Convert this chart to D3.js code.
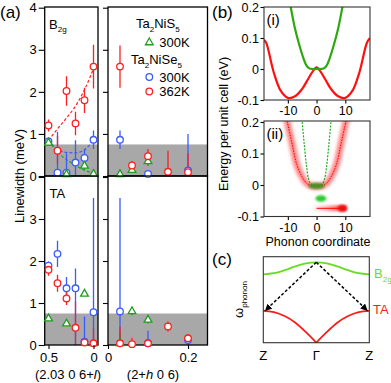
<!DOCTYPE html>
<html>
<head>
<meta charset="utf-8">
<script src="https://cdn.jsdelivr.net/npm/d3@7"></script>
<style>
  body { margin: 0; background: #fff; }
</style>
</head>
<body>
<div id="chart"></div>
<script>
// ---------- panel (a): linewidths, rows are [position, width, err down, err up]
var greyLevel = 0.75;
var lTicks = [0.5, 0];
var hTicks = [0, 0.2];
var widthTicks = [0, 1, 2, 3, 4];

// B2g, (2.03 0 6+l)
var b2gSe300 = [[0.5, 0.82, 0.1, 0.1], [0.4, 0.08, 0.08, 0.97], [0.3, 0.08, 0.08, 0.46],
                [0.2, 0.32, 0.32, 0.53], [0.1, 0.43, 0.22, 0.22], [0, 0.86, 0.22, 0.22]];
var b2gS300 = [[0.5, 0.8, 0.05, 0.05], [0.3, 0.05, 0.05, 0.05], [0.1, 0.25, 0.1, 0.1], [0, 0.06, 0.05, 0.05]];
var b2gSe362 = [[0.5, 1.2, 0.14, 0.14], [0.4, 0.6, 0.3, 0.35], [0.3, 2.02, 0.35, 0.35],
                [0.2, 1.25, 0.28, 0.28], [0.1, 1.8, 0.3, 0.3], [0, 2.6, 0.52, 0.52]];
var fitSe300 = [[0.5, 0.84], [0.4, 0.64], [0.3, 0.56], [0.2, 0.55], [0.1, 0.62], [0, 0.86]];
var fitS300 = [[0.5, 0.85], [0.4, 0.57], [0.3, 0.39], [0.2, 0.25], [0.1, 0.14], [0, 0.06]];
var fitSe362 = [[0.5, 0.85], [0.4, 1.12], [0.3, 1.38], [0.2, 1.66], [0.1, 2.05], [0, 2.55]];

// B2g, (2+h 0 6)
var hB2gSe300 = [[0.03, 0.86, 0.22, 0.22], [0.1, 0.05, 0.05, 0.05], [0.2, 0.13, 0.13, 0.87]];
var hB2gS300 = [[0.03, 0.05, 0.03, 0.05], [0.06, 0.15, 0.05, 0.05], [0.1, 0.36, 0.12, 0.12]];
var hB2gSe362 = [[0.03, 2.6, 0.5, 0.5], [0.06, 0.25, 0.08, 0.1], [0.1, 0.47, 0.15, 0.17],
                 [0.15, 0.1, 0.1, 0.5], [0.2, 0.09, 0.09, 0.45]];

// TA, (2.03 0 6+l)
var taSe300 = [[0.5, 1.89, 0.1, 0.1], [0.4, 2.17, 0.31, 0.31], [0.3, 1.35, 0.27, 0.27],
               [0.2, 1.35, 1.35, 0.47], [0.1, 0.08, 0.08, 0.6], [0, 0.78, 0.78, 2.72]];
var taS300 = [[0.5, 0.64, 0, 0], [0.3, 0.52, 0, 0], [0.1, 1.23, 0, 0], [0, 0.05, 0, 0]];
var taSe362 = [[0.5, 1.79, 0.14, 0.14], [0.4, 1.47, 0.2, 0.2], [0.3, 1.11, 0.16, 0.16],
               [0.2, 0.41, 0.41, 0.62], [0.1, 0.06, 0.06, 0.1], [0, 0.04, 0.04, 0.35]];

// TA, (2+h 0 6)
var hTaSe300 = [[0.03, 0.8, 0.8, 2.7], [0.1, 0.04, 0.04, 0.3], [0.2, 0.12, 0.12, 0.1]];
var hTaS300 = [[0.03, 0.05, 0.05, 0.25], [0.06, 0.81, 0.1, 0.1], [0.1, 0.61, 0.1, 0.1]];
var hTaSe362 = [[0.03, 0.04, 0.04, 0.4], [0.06, 0.02, 0.02, 0.15], [0.1, 0.04, 0.04, 0.1],
                [0.15, 0.44, 0.12, 0.12], [0.2, 0.16, 0.1, 0.1]];

// ---------- panel (b): energy vs phonon coordinate
var coordTicks = [-10, 0, 10];
var energyTicks = [-0.1, 0, 0.1, 0.2];
var lowerI = [[-18.3, 0.094], [-17.5, 0.084], [-15, -0.008], [-12.5, -0.07], [-10, -0.093], [-7.5, -0.088],
              [-5, -0.064], [-3, -0.033], [-1.5, -0.01], [0, 0.005], [1.5, -0.01], [3, -0.033], [5, -0.064],
              [7.5, -0.088], [10, -0.093], [12.5, -0.07], [15, -0.008], [17.5, 0.084], [18.6, 0.1]];
var upperI = [[-9.6, 0.23], [-9, 0.2], [-7.5, 0.13], [-5.8, 0.071], [-4.5, 0.033], [-3.5, 0.011], [-2.5, 0.002],
              [-1.5, 0], [0, 0], [1.5, 0], [2.5, 0.002], [3.5, 0.011], [4.5, 0.033], [5.8, 0.071], [7.5, 0.13],
              [9, 0.2], [9.6, 0.23]];
var lowerII = [[-10.5, 0.21], [-10.2, 0.2], [-8.5, 0.13], [-6.9, 0.065], [-5, 0.025], [-3.5, 0.006], [-2, -0.002],
               [0, -0.004], [2, -0.002], [3.5, 0.006], [5, 0.025], [6.9, 0.065], [8.5, 0.13], [10.2, 0.2], [10.5, 0.21]];
var upperII = [[-5.1, 0.21], [-5, 0.2], [-4.3, 0.13], [-3.5, 0.06], [-2.8, 0.02], [-2, 0.003], [0, 0],
               [2, 0.003], [2.8, 0.02], [3.5, 0.06], [4.3, 0.13], [5, 0.2], [5.1, 0.21]];
// [centre coordinate, energy, half extent in coordinate]
var greenSpots = [[0, -0.003, 2.9], [1.5, -0.043, 1.9]];
var redStreak = [[-1.5, -0.074], [10.4, -0.074]];

// ---------- panel (c): dispersion sketch
var qPoints = [-1, -0.8, -0.6, -0.4, -0.2, 0, 0.2, 0.4, 0.6, 0.8, 1];
var omegaB2g = [0.795, 0.808, 0.843, 0.887, 0.922, 0.935, 0.922, 0.887, 0.843, 0.808, 0.795];
var omegaTA = [0.37, 0.355, 0.31, 0.235, 0.125, 0, 0.125, 0.235, 0.31, 0.355, 0.37];
var qLabels = ['Z', 'Γ', 'Z'];
var arrowsC = [[0, 0.935, -0.97, 0.37], [0, 0.935, 0.97, 0.37]];

// ---------------------------------------------------------------
var width = 391, height = 383;
var font = '"Liberation Sans", Arial, Helvetica, sans-serif';
var colBlue = '#3b5bff', colGreen = '#1f9e1f', colRed = '#ff1f1f';

var svg = d3.select('#chart').append('svg')
  .attr('width', width).attr('height', height)
  .style('font-family', font);
var defs = svg.append('defs');

defs.append('filter').attr('id', 'soft').attr('x', '-50%').attr('y', '-50%')
  .attr('width', '200%').attr('height', '200%')
  .append('feGaussianBlur').attr('stdDeviation', 1.5);
defs.append('filter').attr('id', 'soft2').attr('x', '-50%').attr('y', '-50%')
  .attr('width', '200%').attr('height', '200%')
  .append('feGaussianBlur').attr('stdDeviation', 0.8);

// text with subscripts: parts are [string, isSub]
function richText(sel, parts, size) {
  var shift = 0;
  parts.forEach(function(p) {
    var s = p[1] ? size * 0.28 : 0;
    sel.append('tspan').attr('dy', s - shift)
      .attr('font-size', p[1] ? size * 0.62 : size).text(p[0]);
    shift = s;
  });
  return sel;
}

function styleAxis(g, size) {
  g.attr('font-family', font).attr('font-size', size);
  g.select('.domain').remove();
  g.selectAll('line').attr('stroke', '#000').attr('stroke-width', 1.1);
  g.selectAll('text').attr('fill', '#000');
}

// ---------- (a)
var xL = d3.scaleLinear().domain([0.5, 0]).range([48.5, 93.5]);
var xR = d3.scaleLinear().domain([0, 0.2]).range([108, 188]);
var yTop = d3.scaleLinear().domain([0, 4]).range([176, 7.7]);
var yBot = d3.scaleLinear().domain([0, 4]).range([345, 177]);
var frameL = [44.7, 98], frameR = [108, 207.5];
var frameTop = [7, 176], frameBot = [176, 345];

var styles = [
  { col: colBlue, tri: false },
  { col: colGreen, tri: true },
  { col: colRed, tri: false }
];
var triangle = d3.symbol().type(d3.symbolTriangle).size(26);

function drawMarkers(g, data, x, y, st) {
  if (st.tri) {
    g.selectAll(null).data(data).enter().append('path')
      .attr('d', triangle)
      .attr('transform', function(d) { return 'translate(' + x(d[0]) + ',' + (y(d[1]) + 0.5) + ')'; })
      .attr('fill', '#fff').attr('stroke', st.col).attr('stroke-width', 1.3);
  } else {
    g.selectAll(null).data(data).enter().append('circle')
      .attr('cx', function(d) { return x(d[0]); })
      .attr('cy', function(d) { return y(d[1]); })
      .attr('r', 3.3)
      .attr('fill', '#fff').attr('stroke', st.col).attr('stroke-width', 1.3);
  }
}

function drawLinewidth(id, x, y, xr, yr, sets, fits) {
  var g = svg.append('g');
  defs.append('clipPath').attr('id', id).append('rect')
    .attr('x', xr[0]).attr('y', yr[0]).attr('width', xr[1] - xr[0]).attr('height', yr[1] - yr[0]);
  var inner = g.append('g').attr('clip-path', 'url(#' + id + ')');
  inner.append('rect')
    .attr('x', xr[0]).attr('width', xr[1] - xr[0])
    .attr('y', y(greyLevel)).attr('height', yr[1] - y(greyLevel))
    .attr('fill', '#a8a8a8');

  var line = d3.line()
    .x(function(d) { return x(d[0]); })
    .y(function(d) { return y(d[1]); })
    .curve(d3.curveMonotoneX);
  fits.forEach(function(f, i) {
    if (!f) return;
    inner.append('path').attr('d', line(f))
      .attr('fill', 'none').attr('stroke', styles[i].col)
      .attr('stroke-width', 1.2).attr('stroke-dasharray', '3,2');
  });

  sets.forEach(function(s, i) {
    inner.selectAll(null).data(s).enter().append('line')
      .attr('x1', function(d) { return x(d[0]); })
      .attr('x2', function(d) { return x(d[0]); })
      .attr('y1', function(d) { return y(d[1] - d[2]); })
      .attr('y2', function(d) { return y(d[1] + d[3]); })
      .attr('stroke', styles[i].col).attr('stroke-width', 1.3);
  });

  g.append('rect')
    .attr('x', xr[0]).attr('y', yr[0]).attr('width', xr[1] - xr[0]).attr('height', yr[1] - yr[0])
    .attr('fill', 'none').attr('stroke', '#000').attr('stroke-width', 1.3);

  sets.forEach(function(s, i) { drawMarkers(g, s, x, y, styles[i]); });
  return g;
}

drawLinewidth('cTL', xL, yTop, frameL, frameTop, [b2gSe300, b2gS300, b2gSe362], [fitSe300, fitS300, fitSe362]);
drawLinewidth('cTR', xR, yTop, frameR, frameTop, [hB2gSe300, hB2gS300, hB2gSe362], []);
drawLinewidth('cBL', xL, yBot, frameL, frameBot, [taSe300, taS300, taSe362], []);
drawLinewidth('cBR', xR, yBot, frameR, frameBot, [hTaSe300, hTaS300, hTaSe362], []);

// y axes
svg.append('g').attr('transform', 'translate(' + frameL[0] + ',0)')
  .call(d3.axisLeft(yTop).tickValues(widthTicks).tickSize(6).tickPadding(2).tickSizeOuter(0)
    .tickFormat(function(d) { return String(d); }))
  .call(styleAxis, 13);
svg.append('g').attr('transform', 'translate(' + frameL[0] + ',0)')
  .call(d3.axisLeft(yBot).tickValues(widthTicks).tickSize(6).tickPadding(2).tickSizeOuter(0)
    .tickFormat(function(d) { return d === 4 ? '' : String(d); }))
  .call(styleAxis, 13);
[yTop, yBot].forEach(function(y) {
  svg.append('g').attr('transform', 'translate(' + frameR[0] + ',0)')
    .call(d3.axisLeft(y).tickValues(widthTicks).tickSize(5).tickSizeOuter(0).tickFormat(''))
    .call(styleAxis, 13);
});
// x axes
svg.append('g').attr('transform', 'translate(0,' + frameBot[1] + ')')
  .call(d3.axisBottom(xL).tickValues(lTicks).tickSize(4).tickPadding(4).tickSizeOuter(0)
    .tickFormat(function(d) { return String(d); }))
  .call(styleAxis, 13);
svg.append('g').attr('transform', 'translate(0,' + frameBot[1] + ')')
  .call(d3.axisBottom(xR).tickValues(hTicks).tickSize(4).tickPadding(4).tickSizeOuter(0)
    .tickFormat(function(d) { return String(d); }))
  .call(styleAxis, 13);

// axis titles and labels for (a)
svg.append('text').attr('x', 0).attr('y', 18).attr('font-size', 17).text('(a)');
svg.append('text').attr('transform', 'translate(23.5,176) rotate(-90)')
  .attr('text-anchor', 'middle').attr('font-size', 13).text('Linewidth (meV)');
var xt1 = svg.append('text').attr('x', 68).attr('y', 379).attr('text-anchor', 'middle').attr('font-size', 13);
xt1.append('tspan').text('(2.03 0 6+');
xt1.append('tspan').attr('font-style', 'italic').text('l');
xt1.append('tspan').text(')');
var xt2 = svg.append('text').attr('x', 153).attr('y', 379).attr('text-anchor', 'middle').attr('font-size', 13);
xt2.append('tspan').text('(2+');
xt2.append('tspan').attr('font-style', 'italic').text('h');
xt2.append('tspan').text(' 0 6)');

richText(svg.append('text').attr('x', 49).attr('y', 28.5), [['B'], ['2g', 1]], 13);
svg.append('text').attr('x', 49.5).attr('y', 198).attr('font-size', 13).text('TA');

// legend
richText(svg.append('text').attr('x', 136).attr('y', 28), [['Ta'], ['2', 1], ['NiS'], ['5', 1]], 13);
richText(svg.append('text').attr('x', 131).attr('y', 64), [['Ta'], ['2', 1], ['NiSe'], ['5', 1]], 13);
var legendRows = [[42.5, 1, '300K'], [77, 0, '300K'], [91.5, 2, '362K']];
legendRows.forEach(function(r) {
  var st = styles[r[1]];
  if (st.tri) {
    svg.append('path').attr('d', triangle).attr('transform', 'translate(149.3,' + r[0] + ')')
      .attr('fill', '#fff').attr('stroke', st.col).attr('stroke-width', 1.3);
  } else {
    svg.append('circle').attr('cx', 149.3).attr('cy', r[0]).attr('r', 3.3)
      .attr('fill', '#fff').attr('stroke', st.col).attr('stroke-width', 1.3);
  }
  svg.append('text').attr('x', 159.3).attr('y', r[0] + 4.6).attr('font-size', 13).text(r[2]);
});

// ---------- (b)
var xB = d3.scaleLinear().domain([-18.3, 18.6]).range([264, 370]);
var yB1 = d3.scaleLinear().domain([-0.1, 0.2]).range([100, 7]);
var yB2 = d3.scaleLinear().domain([-0.1, 0.2]).range([216.5, 122]);
var frameB = [264, 370];

function energyFrame(id, y, yr, label) {
  defs.append('clipPath').attr('id', id).append('rect')
    .attr('x', frameB[0]).attr('y', yr[0]).attr('width', frameB[1] - frameB[0]).attr('height', yr[1] - yr[0]);
  svg.append('g').attr('transform', 'translate(' + frameB[0] + ',0)')
    .call(d3.axisLeft(y).tickValues(energyTicks).tickSize(3.5).tickPadding(1.5).tickSizeOuter(0)
      .tickFormat(function(d) { return String(d); }))
    .call(styleAxis, 12.5);
  svg.append('g').attr('transform', 'translate(0,' + yr[1] + ')')
    .call(d3.axisBottom(xB).tickValues(coordTicks).tickSize(3.5).tickPadding(3).tickSizeOuter(0)
      .tickFormat(function(d) { return String(d); }))
    .call(styleAxis, 12.5);
  svg.append('text').attr('x', 266.5).attr('y', yr[0] + 18).attr('font-size', 15).text(label);
  return svg.append('g').attr('clip-path', 'url(#' + id + ')');
}
function energyBox(yr) {
  svg.append('rect').attr('x', frameB[0]).attr('y', yr[0])
    .attr('width', frameB[1] - frameB[0]).attr('height', yr[1] - yr[0])
    .attr('fill', 'none').attr('stroke', '#333').attr('stroke-width', 1.1);
}

var gI = energyFrame('cBi', yB1, [7, 100], '(i)');
var lineI = d3.line().x(function(d) { return xB(d[0]); }).y(function(d) { return yB1(d[1]); })
  .curve(d3.curveCatmullRom);
gI.append('path').attr('d', lineI(lowerI)).attr('fill', 'none').attr('stroke', '#ff1010').attr('stroke-width', 2.2);
gI.append('path').attr('d', lineI(upperI)).attr('fill', 'none').attr('stroke', '#2fa80f').attr('stroke-width', 2.2);
energyBox([7, 100]);

var gII = energyFrame('cBii', yB2, [121, 216.5], '(ii)');
var lineII = d3.line().x(function(d) { return xB(d[0]); }).y(function(d) { return yB2(d[1]); })
  .curve(d3.curveCatmullRom);
gII.append('path').attr('d', lineII(lowerII)).attr('fill', 'none').attr('stroke', '#ff3a3a')
  .attr('stroke-width', 8).attr('stroke-opacity', 0.4).attr('filter', 'url(#soft)');
gII.append('path').attr('d', lineII(lowerII)).attr('fill', 'none').attr('stroke', '#ff4848')
  .attr('stroke-width', 4).attr('stroke-opacity', 0.4).attr('filter', 'url(#soft2)');
gII.append('path').attr('d', lineII(lowerII)).attr('fill', 'none').attr('stroke', '#ff0000')
  .attr('stroke-width', 1).attr('stroke-dasharray', '1.5,1.2');
gII.append('path').attr('d', lineII(upperII)).attr('fill', 'none').attr('stroke', '#22aa22')
  .attr('stroke-width', 1.2).attr('stroke-dasharray', '2,1.3');

var grad = defs.append('linearGradient').attr('id', 'streak').attr('x1', 0).attr('x2', 1).attr('y1', 0).attr('y2', 0);
grad.append('stop').attr('offset', 0).attr('stop-color', '#ff9a9a').attr('stop-opacity', 0.1);
grad.append('stop').attr('offset', 0.4).attr('stop-color', '#ff6a6a').attr('stop-opacity', 0.45);
grad.append('stop').attr('offset', 1).attr('stop-color', '#ff0000').attr('stop-opacity', 0.95);
gII.append('rect')
  .attr('x', xB(redStreak[0][0])).attr('width', xB(redStreak[1][0]) - xB(redStreak[0][0]))
  .attr('y', yB2(redStreak[0][1]) - 3).attr('height', 6).attr('rx', 3)
  .attr('fill', 'url(#streak)').attr('filter', 'url(#soft2)');
gII.append('line')
  .attr('x1', xB(0)).attr('x2', xB(redStreak[1][0]) - 2)
  .attr('y1', yB2(redStreak[0][1])).attr('y2', yB2(redStreak[1][1]))
  .attr('stroke', '#ff0000').attr('stroke-width', 1);
gII.append('ellipse')
  .attr('cx', xB(redStreak[1][0]) - 4).attr('cy', yB2(redStreak[1][1]))
  .attr('rx', 4.5).attr('ry', 3.2).attr('fill', '#f01010').attr('filter', 'url(#soft2)');

gII.selectAll(null).data(greenSpots).enter().append('ellipse')
  .attr('cx', function(d) { return xB(d[0]); })
  .attr('cy', function(d) { return yB2(d[1]); })
  .attr('rx', function(d) { return xB(d[0] + d[2]) - xB(d[0]); })
  .attr('ry', 3.2)
  .attr('fill', function(d, i) { return i === 0 ? '#3a9020' : '#2ccc2c'; })
  .attr('fill-opacity', function(d, i) { return i === 0 ? 0.85 : 1; })
  .attr('filter', 'url(#soft2)');
energyBox([121, 216.5]);

svg.append('text').attr('x', 212).attr('y', 18).attr('font-size', 17).text('(b)');
svg.append('text').attr('transform', 'translate(228,124) rotate(-90)')
  .attr('text-anchor', 'middle').attr('font-size', 12.5).text('Energy per unit cell (eV)');
svg.append('text').attr('x', 318).attr('y', 246).attr('text-anchor', 'middle').attr('font-size', 12.5)
  .text('Phonon coordinate');

// ---------- (c)
var xC = d3.scaleLinear().domain([-1, 1]).range([263.3, 369.3]);
var yC = d3.scaleLinear().domain([0, 1]).range([342.7, 256.7]);
var lineC = d3.line().x(function(d) { return xC(d[0]); }).y(function(d) { return yC(d[1]); })
  .curve(d3.curveMonotoneX);
var b2gPts = qPoints.map(function(q, i) { return [q, omegaB2g[i]]; });
var taPts = qPoints.map(function(q, i) { return [q, omegaTA[i]]; });
var mid = qPoints.indexOf(0);

svg.append('path').attr('d', lineC(b2gPts)).attr('fill', 'none')
  .attr('stroke', '#66dd22').attr('stroke-width', 1.8);
[taPts.slice(0, mid + 1), taPts.slice(mid)].forEach(function(p) {
  svg.append('path').attr('d', lineC(p)).attr('fill', 'none')
    .attr('stroke', '#ff1a1a').attr('stroke-width', 1.8);
});

defs.append('marker')
  .attr('id', 'arrowHead')
  .attr('viewBox', '0 -5 10 10')
  .attr('refX', 10).attr('refY', 0)
  .attr('markerUnits', 'userSpaceOnUse')
  .attr('markerWidth', 7).attr('markerHeight', 7)
  .attr('orient', 'auto')
  .append('path').attr('d', 'M0,-5 L10,0 L0,5 Z').attr('fill', '#000');
svg.selectAll(null).data(arrowsC).enter().append('line')
  .attr('x1', function(d) { return xC(d[0]); })
  .attr('y1', function(d) { return yC(d[1]); })
  .attr('x2', function(d) { return xC(d[2]); })
  .attr('y2', function(d) { return yC(d[3]); })
  .attr('stroke', '#000').attr('stroke-width', 1.5).attr('stroke-dasharray', '3,2')
  .attr('marker-end', 'url(#arrowHead)');

svg.append('rect').attr('x', xC(-1)).attr('y', yC(1))
  .attr('width', xC(1) - xC(-1)).attr('height', yC(0) - yC(1))
  .attr('fill', 'none').attr('stroke', '#333').attr('stroke-width', 1.1);

svg.selectAll(null).data(qLabels).enter().append('text')
  .attr('x', function(d, i) { return xC(i - 1); })
  .attr('y', 360).attr('text-anchor', 'middle').attr('font-size', 13)
  .text(function(d) { return d; });

richText(svg.append('text').attr('x', 374).attr('y', 278).attr('fill', '#66dd22'), [['B'], ['2g', 1]], 13);
svg.append('text').attr('x', 373).attr('y', 314).attr('fill', '#ff1a1a').attr('font-size', 13).text('TA');

var omegaLabel = svg.append('text').attr('transform', 'translate(243,318) rotate(-90)');
richText(omegaLabel, [['ω'], ['phonon', 1]], 13);

svg.append('text').attr('x', 212).attr('y', 265).attr('font-size', 17).text('(c)');
</script>
</body>
</html>
